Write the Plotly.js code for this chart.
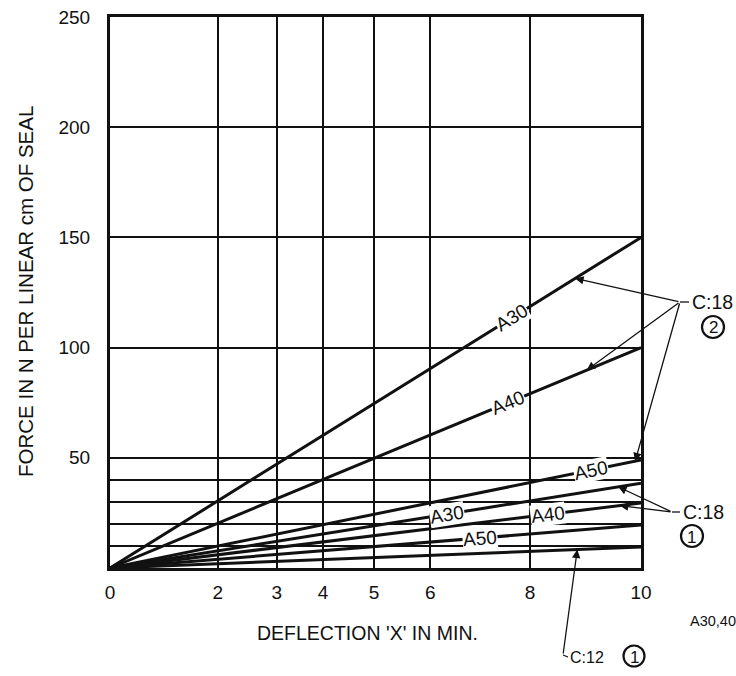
<!DOCTYPE html>
<html>
<head>
<meta charset="utf-8">
<script src="https://cdn.plot.ly/plotly-3.0.1.min.js"></script>
<style>html,body{margin:0;padding:0;background:#fff;}#chart{width:736px;height:676px;}</style>
</head>
<body>
<div id="chart"></div>
<script>
// ---- data ----
const deflection = [0, 10];
const c18_2_A30 = [0, 150];
const c18_2_A40 = [0, 100];
const c18_2_A50 = [0, 49];
const c18_1_A30 = [0, 38.5];
const c18_1_A40 = [0, 29.5];
const c18_1_A50 = [0, 19.5];
const c12_1_A3040 = [0, 9.5];

const xTickVals = [0, 2.03, 3.14, 4.01, 4.97, 6.03, 7.91, 10];
const xTickText = ['0', '2', '3', '4', '5', '6', '8', '10'];
const yTickVals = [0, 10, 20, 30, 40, 50, 100, 150, 200, 250];
const yTickText = ['', '', '', '', '', '50', '100', '150', '200', '250'];

const lineLabels = [
  {name: 'A30', ys: c18_2_A30, at: 7.57},
  {name: 'A40', ys: c18_2_A40, at: 7.5},
  {name: 'A50', ys: c18_2_A50, at: 9.05},
  {name: 'A30', ys: c18_1_A30, at: 6.35},
  {name: 'A40', ys: c18_1_A40, at: 8.25},
  {name: 'A50', ys: c18_1_A50, at: 6.97}
];

// ---- layout geometry ----
const W = 736, H = 676;
const M = {l: 110, r: 95, t: 17, b: 108};
const PW = W - M.l - M.r, PH = H - M.t - M.b;
const XR = [0, 10], YR = [0, 250];
const pxX = PW / (XR[1] - XR[0]), pxY = PH / (YR[1] - YR[0]);
const FONT = 'Liberation Sans, Arial, Helvetica, sans-serif';
const INK = '#111';

function interp(xs, ys, x) {
  for (let i = 0; i < xs.length - 1; i++) {
    if (x >= xs[i] && x <= xs[i + 1]) {
      const t = (x - xs[i]) / (xs[i + 1] - xs[i]);
      return ys[i] + t * (ys[i + 1] - ys[i]);
    }
  }
  return ys[ys.length - 1];
}
function slopeAngle(xs, ys) {
  const s = (ys[ys.length - 1] - ys[0]) / (xs[xs.length - 1] - xs[0]);
  return -Math.atan(s * pxY / pxX) * 180 / Math.PI;
}
const dX = px => XR[0] + (px - M.l) / pxX;
const dY = py => YR[0] + (M.t + PH - py) / pxY;
const pX = px => (px - M.l) / PW;
const pY = py => (M.t + PH - py) / PH;

const allSeries = [c18_2_A30, c18_2_A40, c18_2_A50, c18_1_A30, c18_1_A40, c18_1_A50, c12_1_A3040];
const traces = allSeries.map(ys => ({
  x: deflection, y: ys, type: 'scatter', mode: 'lines',
  line: {color: INK, width: 3}, hoverinfo: 'skip', showlegend: false
}));

const annotations = [];
lineLabels.forEach(L => {
  annotations.push({
    x: L.at, y: interp(deflection, L.ys, L.at), xref: 'x', yref: 'y',
    text: L.name, showarrow: false, textangle: slopeAngle(deflection, L.ys),
    bgcolor: '#fff', borderpad: 0,
    font: {family: FONT, size: 19, color: INK}
  });
});

function callout(series, atX, tailPx, tailPy) {
  annotations.push({
    x: atX, y: interp(deflection, series, atX), xref: 'x', yref: 'y',
    ax: dX(tailPx), ay: dY(tailPy), axref: 'x', ayref: 'y',
    text: '', showarrow: true, arrowhead: 2, arrowsize: 1.3, arrowwidth: 1.3,
    arrowcolor: INK, standoff: 0, startstandoff: 0
  });
}
callout(c18_2_A30, 8.76, 680, 302);
callout(c18_2_A40, 8.98, 680, 302);
callout(c18_2_A50, 9.89, 680, 302);
callout(c18_1_A30, 9.57, 672, 512);
callout(c18_1_A40, 9.6, 672, 512);
callout(c12_1_A3040, 8.8, 563, 655);

const shapes = [
  {type: 'line', xref: 'paper', yref: 'paper', x0: pX(680), y0: pY(302), x1: pX(689), y1: pY(302), line: {color: INK, width: 1.3}},
  {type: 'line', xref: 'paper', yref: 'paper', x0: pX(672), y0: pY(512), x1: pX(680), y1: pY(512), line: {color: INK, width: 1.3}},
  {type: 'line', xref: 'paper', yref: 'paper', x0: pX(563), y0: pY(655), x1: pX(568), y1: pY(657), line: {color: INK, width: 1.3}}
];

function txt(t, px, py, size, anchor) {
  annotations.push({
    x: pX(px), y: pY(py), xref: 'paper', yref: 'paper', text: t, showarrow: false,
    xanchor: anchor || 'center', yanchor: 'middle',
    font: {family: FONT, size: size, color: INK}
  });
}
function circled(d, px, py, r) {
  shapes.push({type: 'circle', xref: 'paper', yref: 'paper',
    x0: pX(px - r), x1: pX(px + r), y0: pY(py + r), y1: pY(py - r),
    line: {color: INK, width: 2.2}});
  txt(d, px, py + 1, 17);
}
txt('C:18', 690, 302, 19.5, 'left');
circled('2', 713, 327, 11);
txt('C:18', 681, 512, 19.5, 'left');
circled('1', 692, 536, 11);
txt('A30,40', 688, 621, 14.5, 'left');
txt('C:12', 568, 657, 16, 'left');
circled('1', 634, 656, 10.5);
txt("DEFLECTION 'X' IN MIN.", 367, 633, 19.5);
annotations.push({
  x: pX(25), y: pY(292), xref: 'paper', yref: 'paper', text: 'FORCE IN N PER LINEAR cm OF SEAL',
  showarrow: false, textangle: -90, xanchor: 'center', yanchor: 'middle',
  font: {family: FONT, size: 20.5, color: INK}
});

const layout = {
  width: W, height: H, margin: M,
  paper_bgcolor: '#fff', plot_bgcolor: '#fff', showlegend: false,
  xaxis: {
    range: XR, tickmode: 'array', tickvals: xTickVals, ticktext: xTickText,
    showgrid: true, gridcolor: INK, gridwidth: 2, zeroline: false,
    showline: true, linecolor: INK, linewidth: 3, mirror: true, ticks: '',
    ticklabelstandoff: 5, tickfont: {family: FONT, size: 19, color: INK}
  },
  yaxis: {
    range: YR, tickmode: 'array', tickvals: yTickVals, ticktext: yTickText,
    showgrid: true, gridcolor: INK, gridwidth: 2, zeroline: false,
    showline: true, linecolor: INK, linewidth: 3, mirror: true, ticks: '',
    ticklabelstandoff: 13, tickfont: {family: FONT, size: 19, color: INK}
  },
  annotations: annotations, shapes: shapes
};
Plotly.newPlot('chart', traces, layout, {staticPlot: true, displayModeBar: false});
</script>
</body>
</html>
